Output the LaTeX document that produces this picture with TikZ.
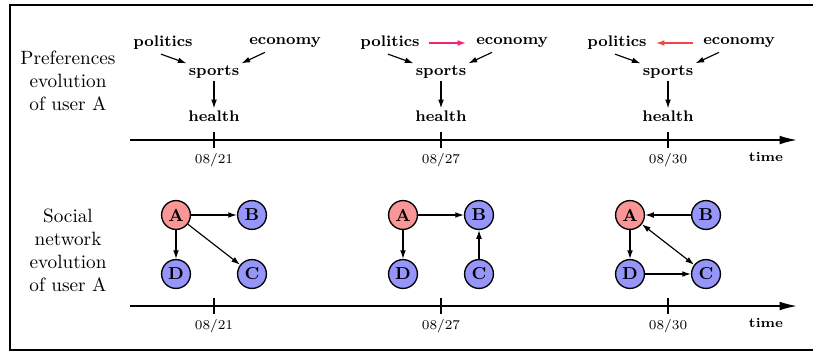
\documentclass[tikz,border=0pt]{standalone}
\usetikzlibrary{arrows.meta}
\definecolor{pinkarr}{RGB}{245,35,115}
\definecolor{redarr}{RGB}{240,70,70}
\definecolor{nodeA}{RGB}{250,150,150}
\definecolor{nodeB}{RGB}{150,150,250}
\begin{document}
\begin{tikzpicture}[x=0.52pt,y=-0.52pt,
  lbl/.style={align=center,font=\normalsize,inner sep=0pt},
  topic/.style={font=\footnotesize\bfseries,inner sep=1pt},
  datel/.style={font=\scriptsize,inner sep=0pt},
  timel/.style={font=\scriptsize\bfseries,inner sep=0pt},
  arr/.style={-{Latex[length=4.5pt,width=3pt]},line width=0.6pt},
  axis/.style={line width=0.8pt,-{Latex[length=9pt,width=4.5pt]}},
  tickm/.style={line width=0.8pt},
  usr/.style={circle,draw,line width=0.7pt,minimum size=15pt,inner sep=0pt,font=\small\bfseries},
  ua/.style={usr,fill=nodeA},
  ub/.style={usr,fill=nodeB}]
\useasboundingbox (0,0) rectangle (814,352);
\draw[line width=1pt] (813,5) -- (10,5) -- (10,350) -- (813,350);

% left labels
\node[lbl] (pl) at (68,81) {Preferences\\evolution\\of user A};
\node[lbl] (sl) at (68,250) {Social\\network\\evolution\\of user A};

% axes
\coordinate (t0) at (130,140);
\coordinate (t1) at (797,140);
\draw[axis] (t0) -- (t1);
\coordinate (b0) at (130,306);
\coordinate (b1) at (797,306);
\draw[axis] (b0) -- (b1);
\node[timel] (ttime) at (766,157) {time};
\node[timel] (btime) at (766,323) {time};

\foreach \x/\d/\n in {214/08\slash 21/1,441/08\slash 27/2,668/08\slash 30/3}{
  \coordinate (tu\n) at (\x,132); \coordinate (td\n) at (\x,148);
  \draw[tickm] (tu\n) -- (td\n);
  \node[datel] (tdate\n) at (\x,160) {\d};
  \coordinate (bu\n) at (\x,298); \coordinate (bd\n) at (\x,314);
  \draw[tickm] (bu\n) -- (bd\n);
  \node[datel] (bdate\n) at (\x,326) {\d};
}

% preferences groups
\foreach \x/\n in {214/1,441/2,668/3}{
  \node[topic] (pol\n) at (\x-51,43) {politics};
  \node[topic] (eco\n) at (\x+71,43) {economy};
  \node[topic] (spo\n) at (\x,72) {sports};
  \node[topic] (hea\n) at (\x,116) {health};
  \draw[arr] (pol\n.south) ++(-2,2) -- (spo\n.north west);
  \draw[arr] (eco\n.south) ++(-20,2) -- (spo\n.north east);
  \draw[arr] (spo\n) -- (hea\n);
}
\draw[arr,pinkarr,line width=0.8pt] ([xshift=3.5pt]pol2.east) -- ([xshift=-4pt]eco2.west);
\draw[arr,redarr,line width=0.8pt] ([xshift=-4pt]eco3.west) -- ([xshift=3.5pt]pol3.east);

% social networks
\foreach \x/\n in {176/1,403/2,630/3}{
  \node[ua] (A\n) at (\x,215) {A};
  \node[ub] (B\n) at (\x+76,215) {B};
  \node[ub] (D\n) at (\x,274) {D};
  \node[ub] (C\n) at (\x+76,274) {C};
}
\draw[arr] (A1) -- (B1);
\draw[arr] (A1) -- (D1);
\draw[arr] (A1) -- (C1);
\draw[arr] (A2) -- (B2);
\draw[arr] (A2) -- (D2);
\draw[arr] (C2) -- (B2);
\draw[arr] (B3) -- (A3);
\draw[arr] (A3) -- (D3);
\draw[{Latex[length=4.5pt,width=3pt]}-{Latex[length=4.5pt,width=3pt]},line width=0.6pt] (A3) -- (C3);
\draw[arr] (D3) -- (C3);
\end{tikzpicture}
\end{document}
